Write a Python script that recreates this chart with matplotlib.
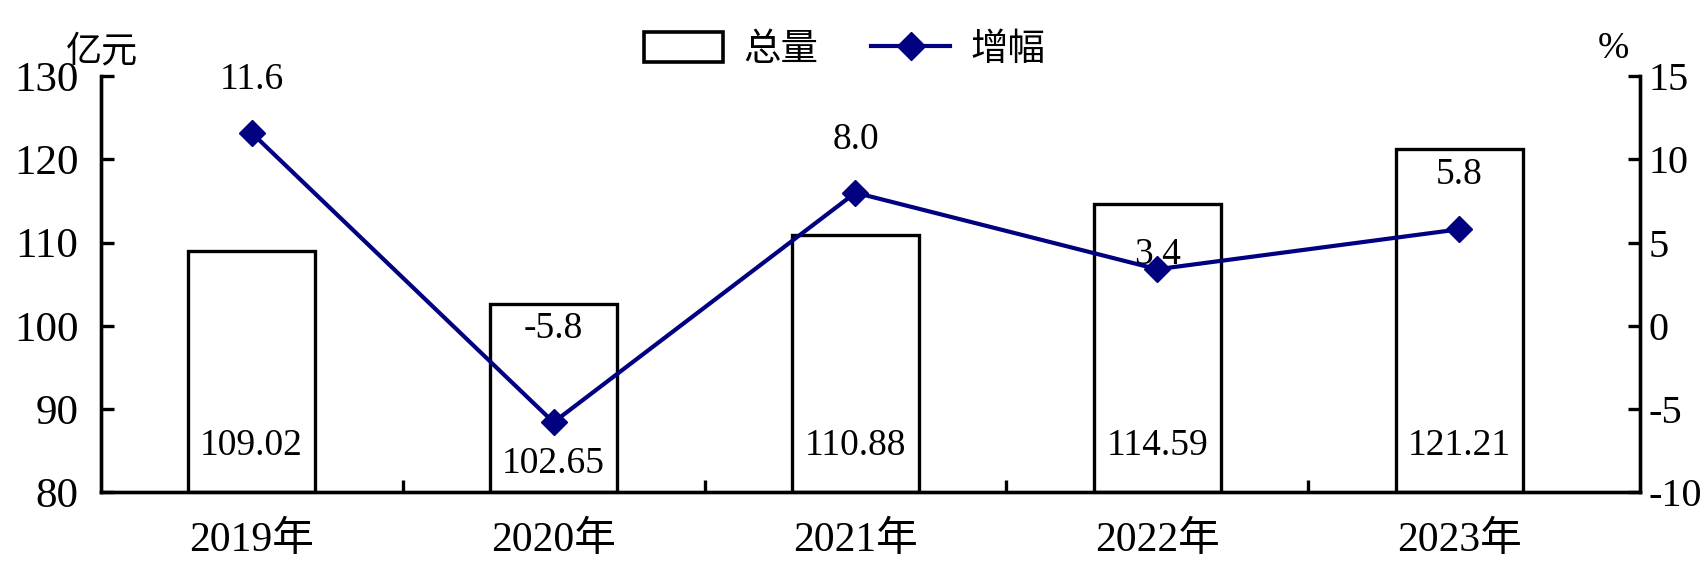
import numpy as np
import matplotlib
matplotlib.use('Agg')
import matplotlib.pyplot as plt
from matplotlib.lines import Line2D
from matplotlib.patches import Patch

# ─── 数据 ──────────────────────────────────
years = ['2019年', '2020年', '2021年', '2022年', '2023年']
total = [109.02, 102.65, 110.88, 114.59, 121.21]      # 亿元
growth = [11.6, -5.8, 8.0, 3.4, 5.8]                 # %

# ─── 标注位置（与数据分开） ──────────────────
bar_label_y = [85.6, 83.4, 85.6, 85.6, 85.6]          # 柱内数字（左轴刻度）
line_label_dy = [3.2, 5.6, 3.2, 0.9, 3.3]             # 折线数字相对点的偏移（右轴）

FONT = ['Liberation Serif', 'Noto Sans CJK SC']
plt.rcParams['font.family'] = FONT
plt.rcParams['axes.unicode_minus'] = False
plt.rcParams['axes.linewidth'] = 2.4

fig = plt.figure(figsize=(17.07, 5.69), dpi=100)
ax = fig.add_axes([0.059, 0.135, 0.902, 0.731])
ax2 = ax.twinx()

x = np.arange(len(years))
ax.bar(x, [v - 80 for v in total], bottom=80, width=0.42, color='white',
       edgecolor='black', linewidth=2.4, zorder=2)
ax.set_ylim(80, 130)
ax.set_yticks(range(80, 131, 10))
ax.set_xlim(-0.5, 4.6)
ax.set_xticks(x)
ax.set_xticklabels(years)
ax.set_xticks(np.arange(0.5, 4.5, 1), minor=True)
ax.tick_params(axis='x', which='major', length=0, labelsize=30, pad=21)
ax.tick_params(axis='x', which='minor', direction='in', length=9, width=2.4)
ax.tick_params(axis='y', direction='in', length=9, width=2.4, labelsize=31, pad=16)
ax.spines['top'].set_visible(False)

for xi, v, ly in zip(x, total, bar_label_y):
    ax.text(xi, ly, f'{v:.2f}', ha='center', va='center', fontsize=27, zorder=5)

ax2.plot(x, growth, color='#000080', linewidth=3, marker='D', markersize=13, zorder=4)
ax2.set_ylim(-10, 15)
ax2.set_yticks(range(-10, 16, 5))
ax2.tick_params(axis='y', direction='in', length=9, width=2.4, labelsize=29, pad=6)
ax2.spines['top'].set_visible(False)
for xi, g, dy in zip(x, growth, line_label_dy):
    ax2.text(xi, g + dy, f'{g:.1f}', ha='center', va='center', fontsize=27)

fig.text(0.060, 0.908, '亿元', ha='center', va='center', fontsize=26)
fig.text(0.945, 0.915, '%', ha='center', va='center', fontsize=27)

handles = [Patch(facecolor='white', edgecolor='black', linewidth=2.6),
           Line2D([], [], color='#000080', linewidth=3, marker='D', markersize=14)]
fig.legend(handles, ['总量', '增幅'], loc='center', bbox_to_anchor=(0.495, 0.912),
           ncol=2, frameon=False, fontsize=27, handlelength=2.1, handleheight=0.85,
           columnspacing=1.4, handletextpad=0.55)

fig.savefig('out.png', dpi=100)
